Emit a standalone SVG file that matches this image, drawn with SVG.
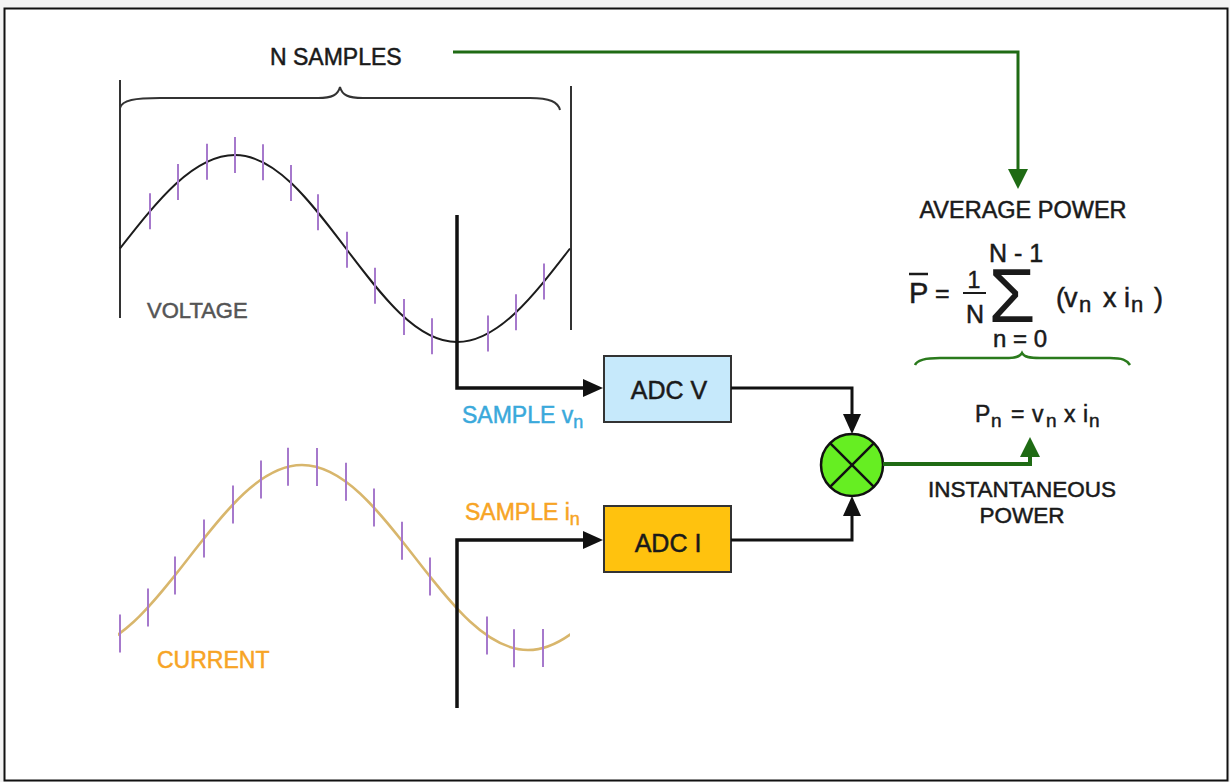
<svg xmlns="http://www.w3.org/2000/svg" width="1230" height="782" viewBox="0 0 1230 782">
  <style>
    text { font-family: "Liberation Sans", Arial, Helvetica, sans-serif; fill: #1a1a1a; stroke: #1a1a1a; stroke-width: 0.5; }
    .lbl { font-size: 23px; }
    .gray { fill: #555555; stroke: #555555; }
    .orange { fill: #f7a425; stroke: #f7a425; }
    .blue { fill: #3aa9db; stroke: #3aa9db; }
    .blk { fill: none; stroke: #111; stroke-width: 3.5; }
    .grn { fill: none; stroke: #1f6b14; }
    .tick { stroke: #a679cc; stroke-width: 2; }
    .box { stroke: #333; stroke-width: 2; }
    .bound { stroke: #333; stroke-width: 2; fill: none; }
  </style>
  <defs>
    <marker id="ab" markerUnits="userSpaceOnUse" markerWidth="20" markerHeight="18" viewBox="0 0 20 18" refX="14" refY="9" orient="auto">
      <path d="M0,0 L20,9 L0,18 z" fill="#111"/>
    </marker>
    <marker id="ag" markerUnits="userSpaceOnUse" markerWidth="20" markerHeight="20" viewBox="0 0 20 20" refX="14" refY="10" orient="auto">
      <path d="M0,0 L20,10 L0,20 z" fill="#1f6b14"/>
    </marker>
    <clipPath id="clipI">
      <rect x="118" y="420" width="452" height="260"/>
    </clipPath>
  </defs>

  <g id="frame">
    <rect x="0" y="0" width="1230" height="782" fill="#f3f3f3"/>
    <rect x="4.5" y="8.5" width="1223" height="772" fill="#ffffff" stroke="#111" stroke-width="2"/>
  </g>

  <g id="n-samples">
    <text class="lbl" x="270" y="65">N SAMPLES</text>
    <line class="bound" x1="120" y1="80" x2="120" y2="318"/>
    <line class="bound" x1="571" y1="86" x2="571" y2="330"/>
    <path class="bound" d="M120,108 C122,100 135,98 160,98 L318,98 C332,98 338,95 340,87 C342,95 348,98 363,98 L530,98 C550,98 558,102 560,110"/>
  </g>

  <g id="voltage-wave">
    <path d="M120,248.5 C157.5,200.6 193.4,155 235,155 C275.2,155 309.8,200.6 346,248.5 C382.2,296.4 416.8,342 457,342 C497.9,342 533.1,296.4 570,248.5" fill="none" stroke="#1c1c1c" stroke-width="2"/>
    <g class="tick">
      <line x1="150" y1="193.3" x2="150" y2="229.3"/>
      <line x1="178" y1="163.9" x2="178" y2="199.9"/>
      <line x1="207" y1="143.7" x2="207" y2="179.7"/>
      <line x1="235" y1="137" x2="235" y2="173"/>
      <line x1="263" y1="144.2" x2="263" y2="180.2"/>
      <line x1="291" y1="164.9" x2="291" y2="200.9"/>
      <line x1="318" y1="194.3" x2="318" y2="230.3"/>
      <line x1="347" y1="231.8" x2="347" y2="267.8"/>
      <line x1="375" y1="267.8" x2="375" y2="303.8"/>
      <line x1="404" y1="298.9" x2="404" y2="334.9"/>
      <line x1="432" y1="318.2" x2="432" y2="354.2"/>
      <line x1="488" y1="315.5" x2="488" y2="351.5"/>
      <line x1="516" y1="294.3" x2="516" y2="330.3"/>
      <line x1="544" y1="263.6" x2="544" y2="299.6"/>
    </g>
    <text class="lbl gray" x="147" y="318" style="font-size:22px">VOLTAGE</text>
  </g>

  <g id="current-wave">
    <path clip-path="url(#clipI)" d="M76,650 C116.9,650 152.15,604.9 189,557.5 C225.85,510.1 261.1,465 302,465 C342.9,465 378.15,510.1 415,557.5 C451.85,604.9 487.1,650 528,650 C568.9,650 604.15,604.9 641,557.5" fill="none" stroke="#d8b66c" stroke-width="2.5"/>
    <g class="tick">
      <line x1="120" y1="614.4" x2="120" y2="652.4"/>
      <line x1="148" y1="588.5" x2="148" y2="626.5"/>
      <line x1="175" y1="556.4" x2="175" y2="594.4"/>
      <line x1="204" y1="519.4" x2="204" y2="557.4"/>
      <line x1="233" y1="485.4" x2="233" y2="523.4"/>
      <line x1="261" y1="460.6" x2="261" y2="498.6"/>
      <line x1="288" y1="447.8" x2="288" y2="485.8"/>
      <line x1="317" y1="448" x2="317" y2="486"/>
      <line x1="346" y1="462.7" x2="346" y2="500.7"/>
      <line x1="374" y1="488.5" x2="374" y2="526.5"/>
      <line x1="402" y1="521.8" x2="402" y2="559.8"/>
      <line x1="430" y1="557.6" x2="430" y2="595.6"/>
      <line x1="487" y1="616.5" x2="487" y2="654.5"/>
      <line x1="514" y1="629.2" x2="514" y2="667.2"/>
      <line x1="543" y1="629" x2="543" y2="667"/>
    </g>
    <text class="lbl orange" x="157" y="668">CURRENT</text>
  </g>

  <g id="sample-v-label">
    <text class="lbl blue" x="462" y="423">SAMPLE v<tspan dy="5" style="font-size:18px">n</tspan></text>
  </g>
  <g id="sample-i-label">
    <text class="lbl orange" x="465" y="520">SAMPLE i<tspan dy="5" style="font-size:18px">n</tspan></text>
  </g>

  <g id="adc-v">
    <rect class="box" x="604" y="356" width="127" height="66" fill="#c6e9fb"/>
    <text x="669" y="399" text-anchor="middle" style="font-size:25px">ADC V</text>
  </g>

  <g id="adc-i">
    <rect class="box" x="604" y="506" width="127" height="66" fill="#ffc20e"/>
    <text x="668" y="552" text-anchor="middle" style="font-size:25px">ADC I</text>
  </g>

  <g id="multiplier">
    <circle cx="852" cy="465" r="31" fill="#66ee22" stroke="#111" stroke-width="2.5"/>
    <line x1="830.1" y1="443.1" x2="873.9" y2="486.9" stroke="#111" stroke-width="2.5"/>
    <line x1="873.9" y1="443.1" x2="830.1" y2="486.9" stroke="#111" stroke-width="2.5"/>
  </g>

  <g id="average-power">
    <text class="lbl" x="1023" y="218" text-anchor="middle" style="font-size:23.5px">AVERAGE POWER</text>
    <text x="909" y="303" style="font-size:29px">P</text>
    <line x1="909" y1="274" x2="928" y2="274" stroke="#1a1a1a" stroke-width="2.5"/>
    <text x="935" y="302" style="font-size:25px">=</text>
    <text x="974" y="288" text-anchor="middle" style="font-size:23px">1</text>
    <line x1="963" y1="293" x2="986" y2="293" stroke="#1a1a1a" stroke-width="2"/>
    <text x="975" y="323" text-anchor="middle" style="font-size:25px">N</text>
    <text x="1012" y="322" text-anchor="middle" style="font-size:76px;stroke-width:0">Σ</text>
    <text x="1016" y="262" text-anchor="middle" style="font-size:25px">N - 1</text>
    <text x="1020" y="347" text-anchor="middle" style="font-size:24px">n = 0</text>
    <text y="307" style="font-size:27px"><tspan x="1056">(</tspan><tspan x="1064">v</tspan><tspan x="1079" y="312" style="font-size:22px">n</tspan><tspan x="1103" y="307">x</tspan><tspan x="1124">i</tspan><tspan x="1131" y="312" style="font-size:22px">n</tspan><tspan x="1154" y="307">)</tspan></text>
    <path d="M915,365 C917,360 925,358 940,358 L1005,358 C1015,358 1020,357 1022,353 C1024,357 1029,358 1040,358 L1110,358 C1122,358 1127,360 1130,365" fill="none" stroke="#2a7a1c" stroke-width="2.5"/>
  </g>

  <g id="instantaneous-power">
    <text y="422" style="font-size:23px"><tspan x="975">P</tspan><tspan x="991" y="427" style="font-size:19px">n</tspan><tspan x="1011" y="422">=</tspan><tspan x="1032">v</tspan><tspan x="1046" y="427" style="font-size:19px">n</tspan><tspan x="1064" y="422">x</tspan><tspan x="1083">i</tspan><tspan x="1089" y="427" style="font-size:19px">n</tspan></text>
    <text class="lbl" x="1022" y="497" text-anchor="middle" style="font-size:22.5px">INSTANTANEOUS</text>
    <text class="lbl" x="1022" y="523" text-anchor="middle" style="font-size:22.5px">POWER</text>
  </g>

  <g id="connectors">
    <path class="blk" d="M457,215 V388 H597" marker-end="url(#ab)"/>
    <path class="blk" d="M457,708 V540 H597" marker-end="url(#ab)"/>
    <path class="blk" style="stroke-width:3" d="M731,388 H852 V428" marker-end="url(#ab)"/>
    <path class="blk" style="stroke-width:3" d="M731,540 H852 V502" marker-end="url(#ab)"/>
    <path class="grn" stroke-width="3" d="M453,52 H1018 V183" marker-end="url(#ag)"/>
    <path class="grn" stroke-width="4" d="M883,464 H1030 V443" marker-end="url(#ag)"/>
  </g>
</svg>
